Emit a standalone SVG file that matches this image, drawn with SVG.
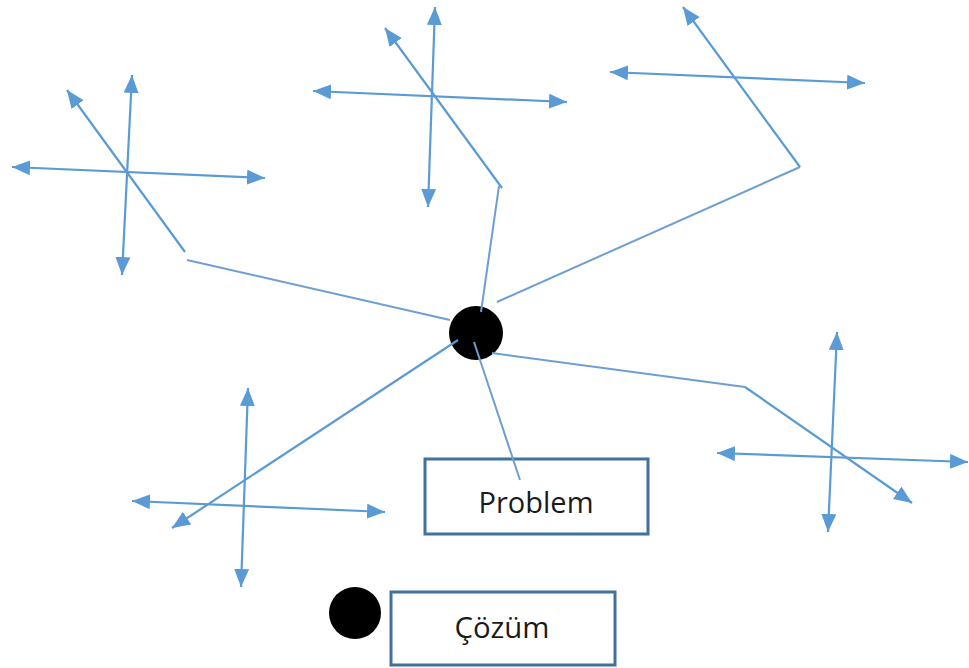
<svg xmlns="http://www.w3.org/2000/svg" width="969" height="668" viewBox="0 0 969 668">
<style>
.ar{stroke:#5B9BD5;stroke-width:2.2;fill:none;marker-end:url(#ah)}
.ar2{stroke:#5B9BD5;stroke-width:2.2;fill:none;marker-start:url(#ah);marker-end:url(#ah)}
.cn{stroke:#6F9ED3;stroke-width:2;fill:none}
.box{fill:#fff;stroke:#41719C;stroke-width:3}
.lbl{font-family:"Open Sans","Noto Sans",sans-serif;font-size:30px;fill:#1a1a1a;text-anchor:middle}
.dot{fill:#000}
</style>
<defs>
<marker id="ah" markerUnits="userSpaceOnUse" markerWidth="20" markerHeight="16" refX="18" refY="7.5" orient="auto-start-reverse" viewBox="0 0 20 16">
<path d="M0,0 L18,7.5 L0,15 z" fill="#5B9BD5"/>
</marker>
</defs>
<rect width="969" height="668" fill="#fff"/>
<g id="node-problem">
<rect class="box" x="425" y="459" width="223" height="75"/>
<text class="lbl" x="536" y="513" textLength="115" lengthAdjust="spacingAndGlyphs">Problem</text>
</g>
<g id="node-cozum">
<circle class="dot" cx="355" cy="613" r="26"/>
<rect class="box" x="391" y="592" width="224" height="73"/>
<text class="lbl" x="502" y="638" textLength="95" lengthAdjust="spacingAndGlyphs">Çözüm</text>
</g>
<g id="node-center">
<circle class="dot" cx="476" cy="333" r="27"/>
</g>
<g id="node-star-topleft">
<line class="ar2" x1="122" y1="275" x2="132" y2="75"/>
<line class="ar2" x1="12" y1="167" x2="265" y2="178"/>
<line class="ar" x1="185" y1="252" x2="67" y2="90"/>
</g>
<g id="node-star-topmid">
<line class="ar2" x1="428" y1="207" x2="435" y2="7"/>
<line class="ar2" x1="313" y1="91" x2="567" y2="102"/>
<line class="ar" x1="502" y1="188" x2="385" y2="28"/>
</g>
<g id="node-star-topright">
<line class="ar2" x1="610" y1="72" x2="865" y2="83"/>
<line class="ar" x1="800" y1="167" x2="683" y2="7"/>
</g>
<g id="node-star-bottomleft">
<line class="ar2" x1="241" y1="587" x2="248" y2="388"/>
<line class="ar2" x1="132" y1="501" x2="385" y2="512"/>
</g>
<g id="node-star-bottomright">
<line class="ar2" x1="828" y1="532" x2="837" y2="332"/>
<line class="ar2" x1="717" y1="453" x2="968" y2="462"/>
</g>
<g id="connectors">
<line class="cn" x1="187" y1="260" x2="450" y2="320"/>
<line class="cn" x1="481" y1="312" x2="499" y2="186"/>
<line class="cn" x1="497" y1="302" x2="800" y2="167"/>
<line class="cn" x1="492" y1="353" x2="745" y2="387"/>
<line class="ar" x1="745" y1="387" x2="912" y2="503"/>
<line class="ar" x1="458" y1="340" x2="172" y2="528"/>
<line class="cn" x1="474" y1="342" x2="520" y2="480"/>
</g>
</svg>
